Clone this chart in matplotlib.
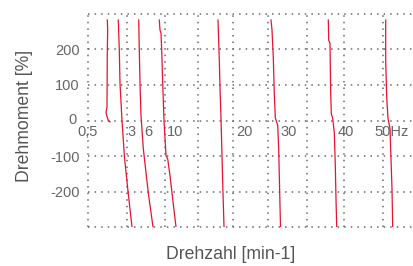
import matplotlib
matplotlib.use("Agg")
import matplotlib.pyplot as plt
from matplotlib.transforms import ScaledTranslation

plt.rcParams['font.family'] = ['Liberation Sans', 'DejaVu Sans']

# Torque-speed curves (speed in arbitrary units, torque in %)
freq_labels = ["0,5", "3", "6", "10", "20", "30", "40", "50Hz"]
label_x = [-10.3, 39.3, 56.3, 78.7, 148, 192, 249.7, 286.3]

speed_05 = [19.3, 19.7, 19.3, 19.0, 18.0, 18.7, 20.0, 22.0]
torque_05 = [283, 255, 198, 37, 23, 14, 2, -4]

speed_3 = [30.3, 31.3, 32.0, 34.0, 36.5, 38.7, 40.3, 44.0]
torque_3 = [283, 198, 105, 0, -105, -164, -207, -300]

speed_6 = [50.7, 51.3, 52.0, 53.0, 55.3, 58.0, 60.3, 65.0]
torque_6 = [283, 198, 105, 14, -79, -147, -204, -300]

speed_10 = [71.3, 72.0, 73.0, 73.7, 74.7, 76.0, 78.0, 79.7, 82.0, 84.7, 88.0]
torque_10 = [283, 255, 246, 198, 105, 0, -99, -108, -156, -221, -300]

speed_20 = [130.0, 131.3, 132.0, 133.0, 134.0, 135.0, 136.0]
torque_20 = [283, 170, 93, 6, -99, -204, -300]

speed_30 = [183.0, 184.0, 185.3, 186.3, 187.3, 189.7, 190.7, 191.3, 192.5]
torque_30 = [283, 255, 178, 76, 8, -14, -79, -156, -300]

speed_40 = [240.3, 240.7, 242.0, 242.7, 243.3, 244.7, 246.3, 247.3, 248.0, 248.7]
torque_40 = [283, 226, 218, 76, 20, 6, -34, -127, -221, -300]

speed_50 = [297.7, 297.7, 298.7, 300.0, 302.0, 303.0, 304.0, 304.7]
torque_50 = [283, 170, 65, 6, -23, -108, -192, -300]

curves = [(speed_05, torque_05), (speed_3, torque_3), (speed_6, torque_6),
          (speed_10, torque_10), (speed_20, torque_20), (speed_30, torque_30),
          (speed_40, torque_40), (speed_50, torque_50)]

grid_x = [0, 39, 77, 110, 145, 180, 219, 256, 295]
grid_y = [300, 200, 100, 0, -100, -200, -300]
ytick_vals = [200, 100, 0, -100, -200]

fig = plt.figure(figsize=(4.14, 2.66), dpi=100)
ax = fig.add_axes([88/414, 1 - 227/266, 1 - 88/414, 213/266])
ax.set_xlim(0, 326)
ax.set_ylim(-300, 300)
for s in ax.spines.values():
    s.set_visible(False)

dot = dict(color='#6a6a6a', lw=1.1, linestyle=(0, (1, 3.3)), clip_on=False, zorder=1)
for gx in grid_x:
    ax.plot([gx, gx], [-300, 300], **dot)
for gy in grid_y:
    ax.plot([0, 326], [gy, gy], **dot)

for sx, ty in curves:
    ax.plot(sx, ty, color='#e3152f', lw=0.9, zorder=3)

ax.set_xticks([])
ax.set_yticks(ytick_vals)
ax.set_yticklabels([str(v) for v in ytick_vals])
ax.tick_params(axis='y', length=0, pad=6, labelsize=10.5, labelcolor='#666666')

# the "0" label sits a little higher and further left in the reference
for tl, v in zip(ax.get_yticklabels(), ytick_vals):
    if v == 0:
        tl.set_transform(tl.get_transform() +
                         ScaledTranslation(-3/100, 1.5/100, fig.dpi_scale_trans))

for lbl, lx in zip(freq_labels, label_x):
    ax.text(lx, -13, lbl, ha='left', va='top', fontsize=10.5, color='#666666',
            clip_on=False, zorder=2)

ax.set_ylabel("Drehmoment [%]", fontsize=12.7, color='#555555')
ax.yaxis.set_label_coords(-0.169, 0.52)
ax.set_xlabel("Drehzahl [min-1]", fontsize=12.7, color='#555555')
ax.xaxis.set_label_coords(0.439, -0.089)

fig.savefig("out.png", dpi=100)
